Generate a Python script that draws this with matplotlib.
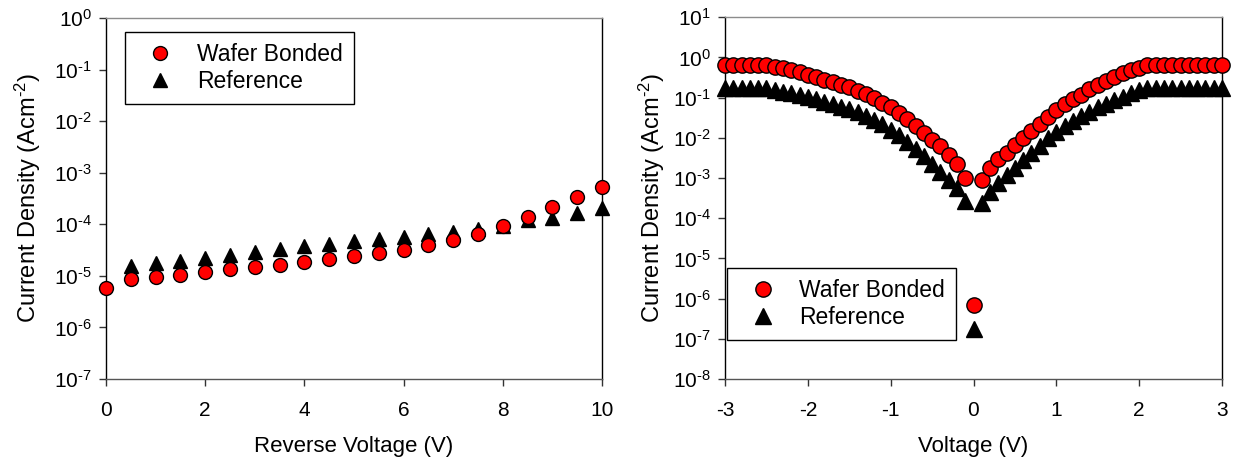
import matplotlib
matplotlib.use("Agg")
import matplotlib.pyplot as plt
import numpy as np
from matplotlib.ticker import FixedLocator, FuncFormatter, NullLocator

plt.rcParams['font.family'] = ['Liberation Sans', 'DejaVu Sans']
plt.rcParams['mathtext.fontset'] = 'custom'
plt.rcParams['mathtext.rm'] = 'Liberation Sans'
plt.rcParams['mathtext.it'] = 'Liberation Sans'
plt.rcParams['mathtext.default'] = 'regular'
plt.rcParams['axes.unicode_minus'] = False

# ---- Left panel: reverse bias ----
rev_v = [0, 0.5, 1, 1.5, 2, 2.5, 3, 3.5, 4, 4.5, 5, 5.5, 6, 6.5, 7, 7.5, 8, 8.5, 9, 9.5, 10]
rev_bonded = [5.8e-6, 8.6e-6, 9.4e-6, 1.05e-5, 1.18e-5, 1.34e-5, 1.48e-5, 1.65e-5, 1.83e-5,
              2.1e-5, 2.4e-5, 2.74e-5, 3.2e-5, 3.9e-5, 5.0e-5, 6.6e-5, 9.4e-5, 1.38e-4,
              2.18e-4, 3.4e-4, 5.3e-4]
rev_ref_v = [0.5, 1, 1.5, 2, 2.5, 3, 3.5, 4, 4.5, 5, 5.5, 6, 6.5, 7, 7.5, 8, 8.5, 9, 9.5, 10]
rev_ref = [1.58e-5, 1.74e-5, 1.95e-5, 2.24e-5, 2.57e-5, 2.95e-5, 3.3e-5, 3.8e-5, 4.2e-5,
           4.8e-5, 5.2e-5, 5.7e-5, 6.4e-5, 7.2e-5, 8.1e-5, 9.3e-5, 1.2e-4, 1.34e-4,
           1.67e-4, 2.04e-4]

# ---- Right panel: I-V sweep ----
iv_v = [round(-3 + 0.1 * i, 1) for i in range(61)]
iv_bonded = [0.65, 0.65, 0.65, 0.65, 0.65, 0.65, 0.59, 0.54, 0.49, 0.43,
             0.37, 0.32, 0.28, 0.25, 0.21, 0.18, 0.15, 0.12, 0.097, 0.075,
             0.058, 0.041, 0.030, 0.020, 0.013, 0.0089, 0.0061, 0.0038, 0.0022, 0.00099,
             6.9e-7,
             0.0009, 0.0018, 0.0029, 0.0043, 0.0067, 0.0098, 0.0149, 0.022, 0.034,
             0.048, 0.070, 0.091, 0.117, 0.162, 0.21, 0.26, 0.32, 0.40, 0.49,
             0.56, 0.65, 0.65, 0.65, 0.65, 0.65, 0.65, 0.65, 0.65, 0.65, 0.65]
iv_ref = [0.171, 0.171, 0.171, 0.171, 0.171, 0.171, 0.156, 0.142, 0.129, 0.117,
          0.102, 0.091, 0.080, 0.070, 0.060, 0.051, 0.043, 0.035, 0.028, 0.022,
          0.016, 0.0118, 0.0081, 0.0053, 0.0036, 0.0022, 0.00145, 0.0009, 0.00056, 0.00027,
          1.8e-7,
          0.000245, 0.00046, 0.00074, 0.0012, 0.0018, 0.0028, 0.0041, 0.0064, 0.0098,
          0.0143, 0.020, 0.027, 0.035, 0.045, 0.057, 0.070, 0.088, 0.106, 0.129,
          0.156, 0.171, 0.171, 0.171, 0.171, 0.171, 0.171, 0.171, 0.171, 0.171, 0.171]

labels = ["Wafer Bonded", "Reference"]

W, H = 1238, 462
fig = plt.figure(figsize=(W / 100, H / 100), dpi=100)

TICK_FS = 15
LABEL_FS = 16
YLABEL_FS = 17
LEG_FS = 16.5

def fmt(v, pos):
    e = int(round(np.log10(v)))
    if e < 0:
        return r"$10^{\text{-}%d}$" % (-e)
    return r"$10^{%d}$" % e

def style(ax, xticks, yexps, ylim):
    ax.set_yscale('log')
    ax.set_ylim(*ylim)
    ax.xaxis.set_major_locator(FixedLocator(xticks))
    ax.yaxis.set_major_locator(FixedLocator([10.0 ** e for e in yexps]))
    ax.yaxis.set_minor_locator(NullLocator())
    ax.yaxis.set_major_formatter(FuncFormatter(fmt))
    ax.spines['top'].set_color('#8c8c8c')
    ax.spines['bottom'].set_color('#555555')
    ax.spines['left'].set_color('black')
    ax.spines['right'].set_color('black')
    for s in ax.spines.values():
        s.set_linewidth(1.0)
    ax.tick_params(axis='both', direction='out', length=5, width=1, labelsize=TICK_FS,
                   color='#333333')
    ax.tick_params(axis='x', pad=11)
    ax.tick_params(axis='y', pad=5)
    ax.set_ylabel("Current Density (Acm$^{\\text{-}2}$)", fontsize=YLABEL_FS)

def legend(ax, anchor):
    leg = ax.legend(loc='upper left', bbox_to_anchor=anchor, fontsize=LEG_FS,
                    frameon=True, fancybox=False, edgecolor='black', framealpha=1,
                    handlelength=2.1, handletextpad=0.55, borderpad=0.5, labelspacing=0.15,
                    borderaxespad=0)
    leg.get_frame().set_linewidth(1.0)

ax1 = fig.add_axes([106 / W, 1 - 379 / H, 496 / W, 361 / H])
ax1.plot(rev_v, rev_bonded, 'o', ms=10, mfc='#ff0000', mec='black', mew=1, clip_on=False,
         label=labels[0], zorder=3)
ax1.plot(rev_ref_v, rev_ref, '^', ms=10, mfc='black', mec='black', mew=1, clip_on=False,
         label=labels[1], zorder=2)
ax1.set_xlim(0, 10)
style(ax1, [0, 2, 4, 6, 8, 10], range(-7, 1), (1e-7, 1e0))
ax1.set_xlabel("Reverse Voltage (V)", fontsize=LABEL_FS)
ax1.xaxis.set_label_coords(0.5, -0.158)
ax1.yaxis.set_label_coords(-0.127, 0.5)
legend(ax1, (0.038, 0.962))

ax2 = fig.add_axes([725 / W, 1 - 379 / H, 497 / W, 361.7 / H])
ax2.plot(iv_v, iv_bonded, 'o', ms=11, mfc='#ff0000', mec='black', mew=1, clip_on=False,
         label=labels[0], zorder=3)
ax2.plot(iv_v, iv_ref, '^', ms=11, mfc='black', mec='black', mew=1, clip_on=False,
         label=labels[1], zorder=2)
ax2.set_xlim(-3, 3)
style(ax2, [-3, -2, -1, 0, 1, 2, 3], range(-8, 2), (1e-8, 1e1))
ax2.set_xlabel("Voltage (V)", fontsize=LABEL_FS)
ax2.xaxis.set_label_coords(0.5, -0.158)
ax2.yaxis.set_label_coords(-0.117, 0.5)
legend(ax2, (0.004, 0.307))

fig.savefig("out.png", dpi=100)
